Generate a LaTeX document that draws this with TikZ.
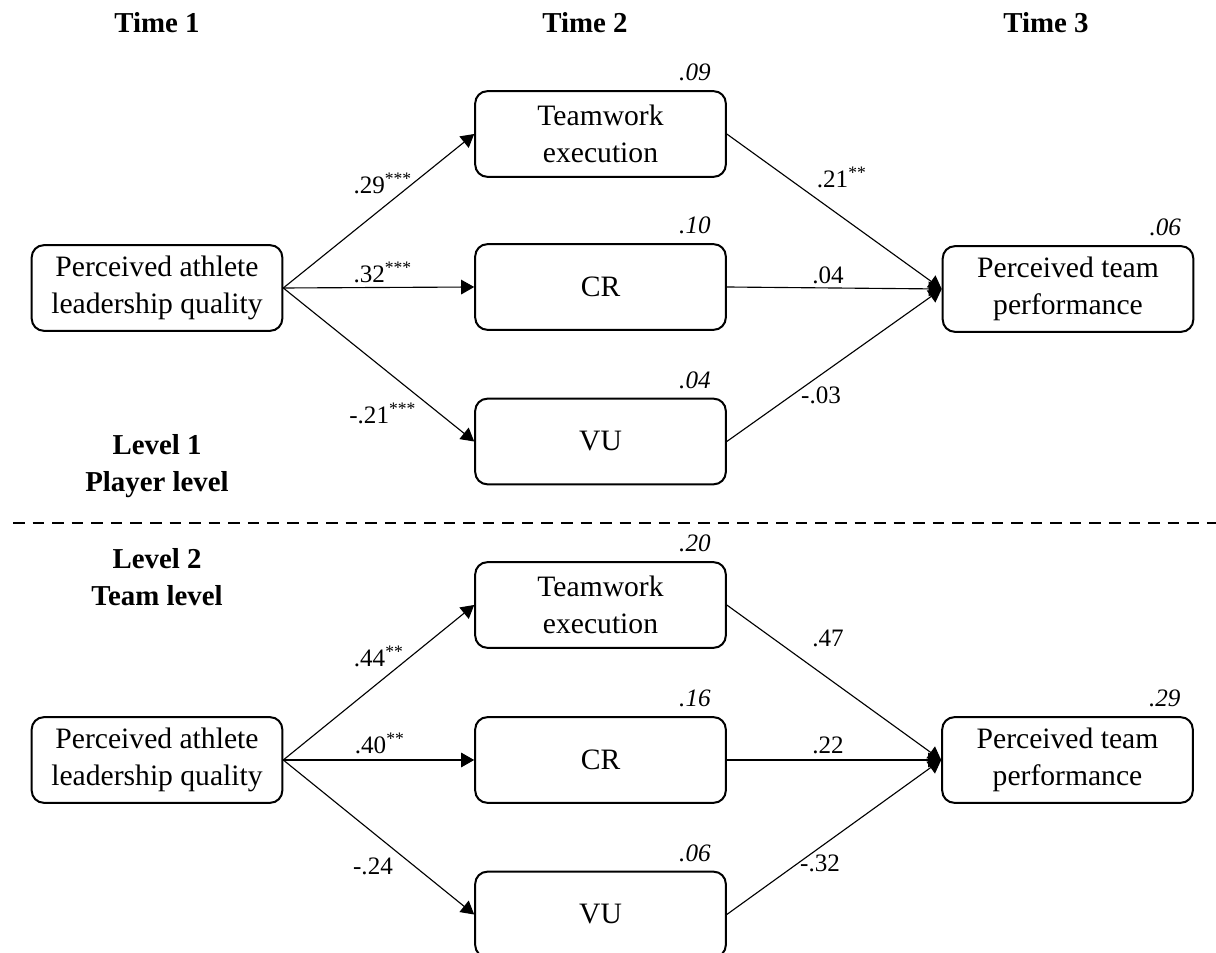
\documentclass[tikz,border=0pt]{standalone}
\usepackage{fontspec}
\setmainfont{Liberation Serif}
\usetikzlibrary{positioning,arrows.meta}
\newcommand{\sig}[1]{\textsuperscript{#1}}

\begin{document}
\begin{tikzpicture}[x=0.014cm, y=-0.014cm, var/.style={draw, line width=0.8pt, rounded corners=0.17cm, minimum width=3.51cm, minimum height=1.2cm, align=center, inner sep=0pt, font=\fontsize{11.8}{14.7}\selectfont}, link/.style={line width=0.45pt, -{Triangle[length=5.2pt,width=5.8pt]}}, coef/.style={font=\fontsize{10}{12}\selectfont, inner sep=0pt}, rsq/.style={font=\fontsize{10}{12}\selectfont\itshape, inner sep=0pt, anchor=base east}, head/.style={font=\fontsize{11.5}{14.7}\selectfont\bfseries, align=center, inner sep=0pt}]
    \useasboundingbox (0,0) rectangle (1216,953);
    \node[head] (t1) at (157,23) {Time 1};
    \node[head] (t2) at (585,23) {Time 2};
    \node[head] (t3) at (1046,23) {Time 3};
    \node[head] (lv1) at (157,466) {Level 1\\Player level};
    \node[head] (lv2) at (157,577) {Level 2\\Team level};
    \coordinate (dl) at (13,523);
    \coordinate (dr) at (1216,523);
    \draw[line width=0.6pt, dash pattern=on 4.6pt off 3.2pt] (dl) -- (dr);

    \node[var] (lead1) at (157,288) {Perceived athlete\\leadership quality};
    \node[var] (tw1) at (600.5,134) {Teamwork\\execution};
    \node[var] (cr1) at (600.5,287) {CR};
    \node[var] (vu1) at (600.5,441.5) {VU};
    \node[var] (perf1) at (1068,289) {Perceived team\\performance};
    \node[rsq] (r1a) at ([xshift=-0.22cm,yshift=0.13cm]tw1.north east) {.09};
    \node[rsq] (r1b) at ([xshift=-0.22cm,yshift=0.13cm]cr1.north east) {.10};
    \node[rsq] (r1c) at ([xshift=-0.22cm,yshift=0.13cm]vu1.north east) {.04};
    \node[rsq] (r1d) at ([xshift=-0.18cm,yshift=0.13cm]perf1.north east) {.06};
    \draw[link] (lead1.east) -- (tw1.west);
    \draw[link] (lead1.east) -- (cr1.west);
    \draw[link] (lead1.east) -- (vu1.west);
    \draw[link] (tw1.east) -- (perf1.west);
    \draw[link] (cr1.east) -- (perf1.west);
    \draw[link] (vu1.east) -- (perf1.west);
    \node[coef] (c1a) at (383,183) {.29\sig{***}};
    \node[coef] (c1b) at (383,272) {.32\sig{***}};
    \node[coef] (c1c) at (383,413) {-.21\sig{***}};
    \node[coef] (c1d) at (842,177) {.21\sig{**}};
    \node[coef] (c1e) at (828,275) {.04};
    \node[coef] (c1f) at (821,395) {-.03};

    \node[var] (lead2) at (157,760) {Perceived athlete\\leadership quality};
    \node[var] (tw2) at (600.5,605) {Teamwork\\execution};
    \node[var] (cr2) at (600.5,760) {CR};
    \node[var] (vu2) at (600.5,914.5) {VU};
    \node[var] (perf2) at (1067.5,760) {Perceived team\\performance};
    \node[rsq] (r2a) at ([xshift=-0.22cm,yshift=0.13cm]tw2.north east) {.20};
    \node[rsq] (r2b) at ([xshift=-0.22cm,yshift=0.13cm]cr2.north east) {.16};
    \node[rsq] (r2c) at ([xshift=-0.22cm,yshift=0.13cm]vu2.north east) {.06};
    \node[rsq] (r2d) at ([xshift=-0.18cm,yshift=0.13cm]perf2.north east) {.29};
    \draw[link] (lead2.east) -- (tw2.west);
    \draw[link] (lead2.east) -- (cr2.west);
    \draw[link] (lead2.east) -- (vu2.west);
    \draw[link] (tw2.east) -- (perf2.west);
    \draw[link] (cr2.east) -- (perf2.west);
    \draw[link] (vu2.east) -- (perf2.west);
    \node[coef] (c2a) at (379,656) {.44\sig{**}};
    \node[coef] (c2b) at (380,743) {.40\sig{**}};
    \node[coef] (c2c) at (373,866) {-.24};
    \node[coef] (c2d) at (828,638) {.47};
    \node[coef] (c2e) at (828,745) {.22};
    \node[coef] (c2f) at (820,863) {-.32};
\end{tikzpicture}
\end{document}
